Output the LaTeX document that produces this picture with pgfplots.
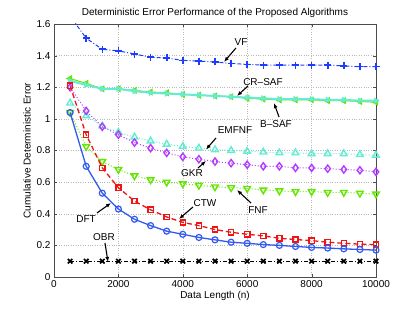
\documentclass[border=0pt]{standalone}
\usepackage{pgfplots}
\pgfplotsset{compat=1.18}
\usepackage{pgfplotstable}
\usepackage{fontspec}
\setmainfont{Liberation Sans}
\usetikzlibrary{arrows.meta}
\definecolor{vfblue}{RGB}{30,60,255}
\definecolor{dftblue}{RGB}{50,90,240}
\definecolor{ctwred}{RGB}{240,20,20}
\definecolor{lime}{RGB}{100,230,0}
\definecolor{aqua}{RGB}{100,235,210}
\definecolor{purp}{RGB}{180,60,255}
\pgfplotstableread{
n     VF    CRSAF BSAF  EMFNF GKR   FNF   CTW   DFT   OBR
500   1.65  1.255 1.240 1.10  1.20  1.040 1.210 1.040 0.1
1000  1.51  1.225 1.215 1.02  1.05  0.825 0.900 0.700 0.1
1500  1.44  1.190 1.190 0.955 0.95  0.730 0.690 0.530 0.1
2000  1.43  1.190 1.190 0.915 0.90  0.680 0.565 0.430 0.1
2500  1.41  1.180 1.175 0.885 0.85  0.640 0.480 0.365 0.1
3000  1.39  1.170 1.165 0.860 0.815 0.615 0.425 0.325 0.1
3500  1.385 1.165 1.160 0.840 0.785 0.600 0.380 0.290 0.1
4000  1.37  1.155 1.155 0.825 0.760 0.590 0.345 0.270 0.1
4500  1.365 1.150 1.150 0.815 0.745 0.580 0.325 0.250 0.1
5000  1.36  1.145 1.145 0.805 0.730 0.570 0.300 0.235 0.1
5500  1.35  1.140 1.140 0.800 0.720 0.565 0.283 0.220 0.1
6000  1.345 1.130 1.135 0.795 0.710 0.560 0.270 0.213 0.1
6500  1.34  1.125 1.130 0.790 0.700 0.550 0.260 0.205 0.1
7000  1.34  1.120 1.125 0.785 0.700 0.545 0.245 0.200 0.1
7500  1.34  1.120 1.125 0.785 0.690 0.540 0.237 0.193 0.1
8000  1.34  1.120 1.125 0.780 0.690 0.540 0.230 0.187 0.1
8500  1.34  1.115 1.120 0.780 0.685 0.535 0.220 0.183 0.1
9000  1.335 1.115 1.120 0.780 0.680 0.535 0.213 0.178 0.1
9500  1.33  1.110 1.115 0.775 0.675 0.530 0.208 0.174 0.1
10000 1.33  1.105 1.115 0.770 0.665 0.525 0.205 0.170 0.1
}\datatable
\begin{document}
\begin{tikzpicture}
\begin{axis}[
  scale only axis, width=322pt, height=253pt,
  xmin=0, xmax=10000, ymin=0, ymax=1.6,
  xtick={0,2000,...,10000}, ytick={0,0.2,...,1.6},
  scaled x ticks=false,
  /pgf/number format/1000 sep={},
  /pgf/number format/assume math mode=true,
  ticklabel style={font=\fontsize{10}{11}\selectfont},
  grid=major, grid style={gray!55, dotted},
  major tick length=3pt,
  tick style={black!70},
  axis line style={black!70},
  title={Deterministic Error Performance of the Proposed Algorithms},
  title style={font=\fontsize{10}{11}\selectfont, yshift=-3pt},
  xlabel={Data Length (n)}, ylabel={Cumulative Deterministic Error},
  label style={font=\fontsize{10}{11}\selectfont},
  xlabel style={yshift=3pt}, ylabel style={yshift=-1pt},
  clip mode=individual,
]
\addplot[vfblue, line width=1pt, dash pattern=on 1pt off 2pt on 4pt off 2pt, mark=+, mark size=3.5pt, mark options={solid, line width=1.6pt}] table[x=n,y=VF] {\datatable};
\addplot[lime, line width=1pt, mark=triangle*, mark size=3.2pt, mark options={solid, rotate=90, fill=lime}] table[x=n,y=CRSAF] {\datatable};
\addplot[aqua, line width=2pt, mark=triangle*, mark size=3.2pt, mark options={solid, rotate=-90, fill=aqua, line width=0.5pt}] table[x=n,y=BSAF] {\datatable};
\addplot[aqua, line width=1pt, dotted, mark=triangle, mark size=3.8pt, mark options={solid, line width=1.4pt}] table[x=n,y=EMFNF] {\datatable};
\addplot[purp, line width=1pt, dotted, mark=diamond, mark size=3.6pt, mark options={solid, line width=1.4pt}] table[x=n,y=GKR] {\datatable};
\addplot[lime, line width=1pt, dotted, mark=triangle, mark size=3.8pt, mark options={solid, rotate=180, line width=1.4pt}] table[x=n,y=FNF] {\datatable};
\addplot[ctwred, line width=1.3pt, dash pattern=on 5pt off 3pt, mark=square, mark size=2.6pt, mark options={solid, line width=1.4pt}] table[x=n,y=CTW] {\datatable};
\addplot[dftblue, line width=1.3pt, mark=o, mark size=3pt, mark options={solid, line width=1.2pt}] table[x=n,y=DFT] {\datatable};
\addplot[black, line width=1pt, dash pattern=on 4pt off 2pt on 1pt off 2pt, mark=x, mark size=3.2pt, mark options={solid, line width=1.7pt}] table[x=n,y=OBR] {\datatable};
% annotations
\tikzset{ann/.style={-{Latex[length=5pt,width=4pt]}, line width=1.1pt, black}}
\tikzset{lab/.style={font=\fontsize{10}{11}\selectfont, inner sep=1pt}}
\draw[ann] (axis cs:5650,1.448) -- (axis cs:5280,1.36);
\node[lab] at (axis cs:5807,1.486) {VF};
\draw[ann] (axis cs:6025,1.208) -- (axis cs:5683,1.145);
\node[lab] at (axis cs:6490,1.233) {CR--SAF};
\draw[ann] (axis cs:6988,1.012) -- (axis cs:6832,1.10);
\node[lab] at (axis cs:6894,0.968) {B--SAF};
\draw[ann] (axis cs:5031,0.879) -- (axis cs:4720,0.806);
\node[lab] at (axis cs:5621,0.93) {EMFNF};
\draw[ann] (axis cs:4472,0.689) -- (axis cs:4720,0.734);
\node[lab] at (axis cs:4286,0.658) {GKR};
\draw[ann] (axis cs:6118,0.468) -- (axis cs:5683,0.55);
\node[lab] at (axis cs:6335,0.424) {FNF};
\draw[ann] (axis cs:4317,0.443) -- (axis cs:3882,0.367);
\node[lab] at (axis cs:4690,0.468) {CTW};
\draw[ann] (axis cs:1335,0.405) -- (axis cs:1770,0.468);
\node[lab] at (axis cs:994,0.367) {DFT};
\draw[ann] (axis cs:1584,0.215) -- (axis cs:1677,0.095);
\node[lab] at (axis cs:1553,0.253) {OBR};
\end{axis}
\pgfresetboundingbox
\path[use as bounding box] (-54pt,-36pt) rectangle (361pt,277pt);
\end{tikzpicture}
\end{document}
